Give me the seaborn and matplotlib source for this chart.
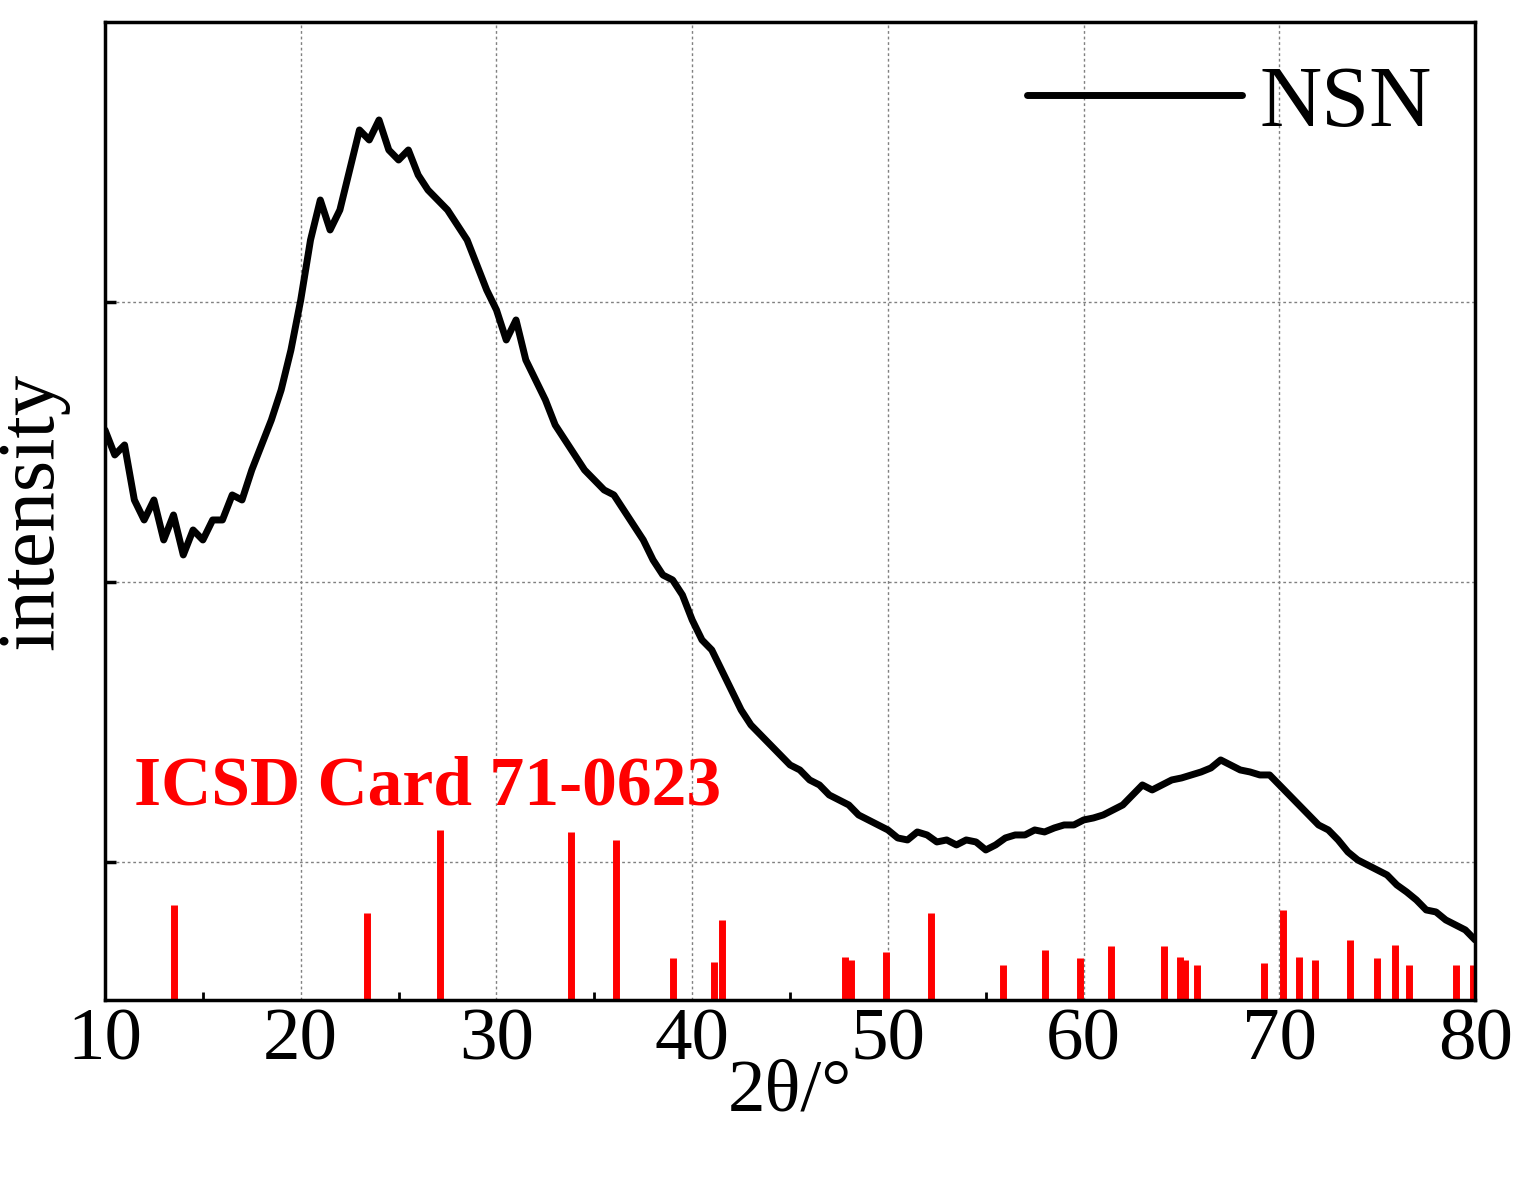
import numpy as np
import matplotlib
matplotlib.use("Agg")
import matplotlib.pyplot as plt
import seaborn as sns

two_theta = np.arange(10, 80.01, 0.5)
intensity = [570,545,555,500,480,500,460,485,445,470,460,480,480,505,500,530,555,580,610,650,
             700,760,800,770,790,830,870,860,880,850,840,850,825,810,800,790,775,760,735,710,
             690,660,680,640,620,600,575,560,545,530,520,510,505,490,475,460,440,425,420,405,
             380,360,350,330,310,290,275,265,255,245,235,230,220,215,205,200,195,185,180,175,
             170,162,160,168,165,158,160,155,160,158,150,155,162,165,165,170,168,172,175,175,
             180,182,185,190,195,205,215,210,215,220,222,225,228,232,240,235,230,228,225,225,
             215,205,195,185,175,170,160,148,140,135,130,125,115,108,100,90,88,80,75,70,60]
card_pos = [13.5,23.4,27.1,33.8,36.1,39.0,41.1,41.5,47.8,48.1,49.9,52.2,55.9,58.0,59.8,61.4,
            64.1,64.9,65.2,65.8,69.2,70.2,71.0,71.8,73.6,75.0,75.9,76.6,79.0,79.9]
card_int = [95,87,170,168,160,42,38,80,43,40,48,87,35,50,42,54,54,43,40,35,37,90,43,40,60,42,55,35,35,35]

sns.set_theme(style="white")
plt.rcParams['font.family'] = ['Liberation Serif', 'DejaVu Serif']
plt.rcParams['text.color'] = 'black'
plt.rcParams['xtick.color'] = 'black'
plt.rcParams['ytick.color'] = 'black'
plt.rcParams['axes.labelcolor'] = 'black'
fig = plt.figure(figsize=(15.35, 12.01), dpi=100)
ax = fig.add_axes([0.0684, 0.1674, 0.8926, 0.8143])
sns.lineplot(x=two_theta[:len(intensity)], y=intensity, ax=ax, color='black', lw=5, label='NSN')
ax.vlines(card_pos, 0, card_int, color='red', lw=5)
ax.text(11.5, 195, 'ICSD Card 71-0623', color='red', fontsize=50, fontweight='bold')
ax.set_xlim(10, 80)
ax.set_ylim(0, 978)
ax.set_xticks(range(10, 81, 10))
ax.set_xticks(range(15, 80, 10), minor=True)
ax.set_yticks([138, 418, 698])
ax.set_yticklabels([])
ax.grid(True, which='major', color='gray', ls=(0, (2, 2)), lw=1)
ax.tick_params(axis='x', which='major', labelsize=54, length=10, width=2.5, direction='in', pad=6)
ax.tick_params(axis='x', which='minor', length=6, width=2, direction='in', bottom=True)
ax.tick_params(axis='y', length=8, width=2.5, direction='in', left=True)
for s in ax.spines.values():
    s.set_linewidth(2.5); s.set_color('black')
ax.set_xlabel('2θ/°', fontsize=54, labelpad=-12)
ax.set_ylabel('intensity', fontsize=58, labelpad=22)
leg = ax.legend(loc='upper right', frameon=False, fontsize=62, handlelength=2.5,
                handletextpad=0.2, borderaxespad=0.1)
for l in leg.get_lines():
    l.set_linewidth(5)
fig.savefig('out.png', dpi=100)
